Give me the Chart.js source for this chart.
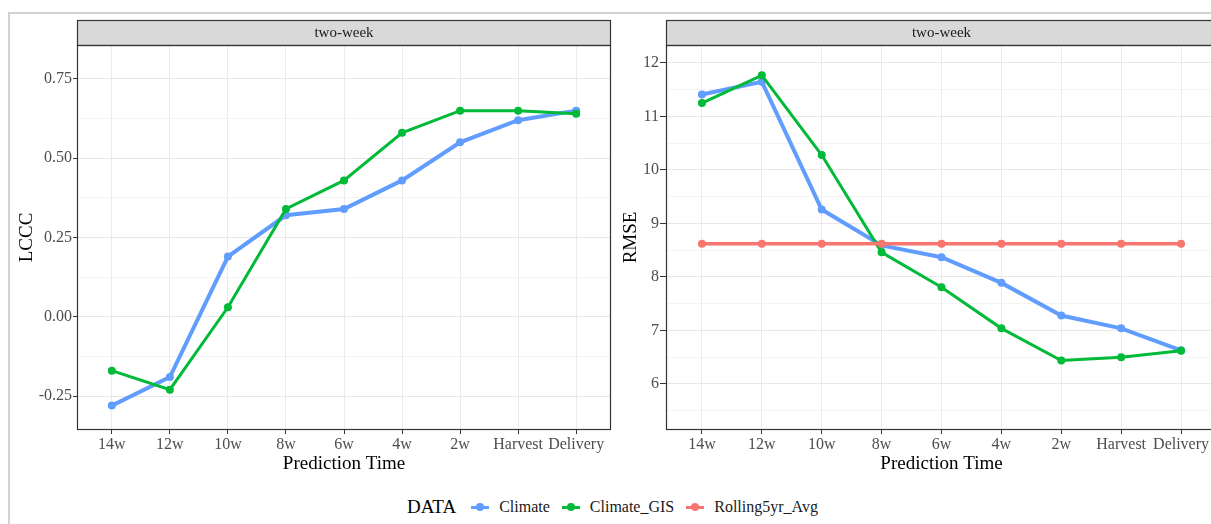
<!DOCTYPE html>
<html lang="en">
<head>
<meta charset="UTF-8">
<title>Prediction Time - LCCC and RMSE</title>
<script src="https://cdn.jsdelivr.net/npm/chart.js"></script>
<style>
    body {
        margin: 0;
        width: 1211px;
        height: 524px;
        overflow: hidden;
        position: relative;
        background: #fff;
        font-family: "Liberation Serif", "Times New Roman", serif;
    }
    .frame {
        position: absolute;
        left: 8px;
        top: 12px;
        width: 1300px;
        height: 600px;
        border-left: 2px solid #d2d2d2;
        border-top: 2px solid #d2d2d2;
    }
    .panel {
        position: absolute;
        top: 0;
        height: 480px;
    }
    #leftBox { left: 0; width: 625px; }
    #rightBox { left: 612px; width: 620px; }
    .legend {
        position: absolute;
        left: 407px;
        top: 494px;
        height: 26px;
        display: flex;
        align-items: center;
        color: #000;
    }
    .legend .ltitle { font-size: 19px; margin-right: 15px; }
    .legend .key {
        position: relative;
        width: 18px;
        height: 10px;
        margin-right: 10px;
    }
    .legend .key .bar {
        position: absolute; left: 0; top: 4px; width: 18px; height: 3px;
    }
    .legend .key .dot {
        position: absolute; left: 5px; top: 1px; width: 8px; height: 8px; border-radius: 50%;
    }
    .legend .txt { font-size: 16px; margin-right: 12px; color: #1a1a1a; }
</style>
</head>
<body>

<div class="frame"></div>
<div class="panel" id="leftBox"><canvas id="lcccChart"></canvas></div>
<div class="panel" id="rightBox"><canvas id="rmseChart"></canvas></div>
<div class="legend" id="legend"></div>

<script>
    // categories on the x axis
    const predTimes = ['14w', '12w', '10w', '8w', '6w', '4w', '2w', 'Harvest', 'Delivery'];

    // LCCC panel
    const lcccClimate    = [-0.28, -0.19, 0.19, 0.32, 0.34, 0.43, 0.55, 0.62, 0.65];
    const lcccClimateGIS = [-0.17, -0.23, 0.03, 0.34, 0.43, 0.58, 0.65, 0.65, 0.64];
    const lcccMajorTicks = [-0.25, 0, 0.25, 0.5, 0.75];
    const lcccMinorTicks = [-0.125, 0.125, 0.375, 0.625];

    // RMSE panel
    const rmseClimate    = [11.41, 11.65, 9.26, 8.59, 8.37, 7.89, 7.28, 7.04, 6.63];
    const rmseClimateGIS = [11.25, 11.77, 10.28, 8.46, 7.81, 7.04, 6.44, 6.50, 6.62];
    const rmseRolling    = [8.62, 8.62, 8.62, 8.62, 8.62, 8.62, 8.62, 8.62, 8.62];
    const rmseMajorTicks = [6, 7, 8, 9, 10, 11, 12];
    const rmseMinorTicks = [5.5, 6.5, 7.5, 8.5, 9.5, 10.5, 11.5];

    const seriesNames  = ['Climate', 'Climate_GIS', 'Rolling5yr_Avg'];
    const seriesColors = ['#619CFF', '#00BA38', '#F8766D'];
    const stripLabel = 'two-week';

    const serif = '"Liberation Serif", "Times New Roman", serif';

    function toPoints(values) {
        return values.map((v, i) => ({ x: i, y: v }));
    }

    function makeDataset(idx, values, width) {
        return {
            label: seriesNames[idx],
            data: toPoints(values),
            borderColor: seriesColors[idx],
            backgroundColor: seriesColors[idx],
            borderWidth: width,
            pointRadius: 4,
            pointBorderWidth: 0,
            pointHoverRadius: 4,
            tension: 0,
            order: 3 - idx
        };
    }

    // grey facet strip on top + dark panel border
    const stripPlugin = {
        id: 'strip',
        afterDraw(chart) {
            const ctx = chart.ctx;
            const a = chart.chartArea;
            const h = 25;
            ctx.save();
            ctx.fillStyle = '#d9d9d9';
            ctx.fillRect(a.left, a.top - h, a.right - a.left, h);
            ctx.strokeStyle = '#333333';
            ctx.lineWidth = 1.2;
            ctx.strokeRect(a.left + 0.5, a.top - h + 0.5, a.right - a.left - 1, h);
            ctx.strokeRect(a.left + 0.5, a.top + 0.5, a.right - a.left - 1, a.bottom - a.top - 1);
            ctx.fillStyle = '#1a1a1a';
            ctx.font = '15px ' + serif;
            ctx.textAlign = 'center';
            ctx.textBaseline = 'middle';
            ctx.fillText(stripLabel, (a.left + a.right) / 2, a.top - h / 2 + 1);
            ctx.restore();
        }
    };

    function makeChart(canvasId, datasets, cfg) {
        const majors = cfg.majors;
        const allTicks = majors.concat(cfg.minors).sort((a, b) => a - b);
        return new Chart(document.getElementById(canvasId), {
            type: 'line',
            data: { datasets: datasets },
            plugins: [stripPlugin],
            options: {
                responsive: true,
                maintainAspectRatio: false,
                animation: false,
                layout: { padding: { left: cfg.padLeft, right: cfg.padRight, top: 45, bottom: 0 } },
                plugins: {
                    legend: { display: false },
                    tooltip: { enabled: false }
                },
                scales: {
                    x: {
                        type: 'linear',
                        min: -0.6,
                        max: predTimes.length - 0.4,
                        afterBuildTicks: s => { s.ticks = predTimes.map((c, i) => ({ value: i })); },
                        afterFit: s => { s.height = 50; },
                        border: { display: false },
                        grid: { color: '#ebebeb', lineWidth: 1, tickColor: '#333333', tickLength: 4 },
                        ticks: {
                            autoSkip: false,
                            maxRotation: 0,
                            padding: 1,
                            color: '#4d4d4d',
                            font: { family: serif, size: 16 },
                            callback: v => predTimes[v]
                        },
                        title: {
                            display: true,
                            text: 'Prediction Time',
                            color: '#000',
                            font: { family: serif, size: 19 },
                            padding: { top: 0, bottom: 5 }
                        }
                    },
                    y: {
                        min: cfg.min,
                        max: cfg.max,
                        afterBuildTicks: s => { s.ticks = allTicks.map(v => ({ value: v })); },
                        afterFit: s => { s.width = cfg.axisWidth; },
                        border: { display: false },
                        grid: {
                            color: c => majors.includes(c.tick.value) ? '#e8e8e8' : '#f4f4f4',
                            lineWidth: 1,
                            tickColor: c => majors.includes(c.tick.value) ? '#333333' : 'rgba(0,0,0,0)',
                            tickLength: cfg.tickLen
                        },
                        ticks: {
                            padding: 1,
                            color: '#4d4d4d',
                            font: { family: serif, size: 16 },
                            callback: v => majors.includes(v) ? cfg.fmt(v) : ''
                        },
                        title: {
                            display: true,
                            text: cfg.title,
                            color: '#000',
                            font: { family: serif, size: 19 },
                            padding: { top: 0, bottom: 0 }
                        }
                    }
                }
            }
        });
    }

    makeChart('lcccChart', [
        makeDataset(0, lcccClimate, 4),
        makeDataset(1, lcccClimateGIS, 3)
    ], {
        min: -0.357, max: 0.857,
        majors: lcccMajorTicks, minors: lcccMinorTicks,
        fmt: v => v.toFixed(2),
        title: 'LCCC',
        padLeft: 16, padRight: 14, axisWidth: 61, tickLen: 4
    });

    makeChart('rmseChart', [
        makeDataset(0, rmseClimate, 4),
        makeDataset(1, rmseClimateGIS, 3),
        makeDataset(2, rmseRolling, 3.5)
    ], {
        min: 5.14, max: 12.336,
        majors: rmseMajorTicks, minors: rmseMinorTicks,
        fmt: v => String(v),
        title: 'RMSE',
        padLeft: 8, padRight: 15, axisWidth: 46, tickLen: 6
    });

    // shared legend below both panels
    const legend = document.getElementById('legend');
    legend.innerHTML = '<span class="ltitle">DATA</span>' + seriesNames.map((name, i) =>
        `<span class="key"><span class="bar" style="background:${seriesColors[i]}"></span>` +
        `<span class="dot" style="background:${seriesColors[i]}"></span></span>` +
        `<span class="txt">${name}</span>`
    ).join('');
</script>

</body>
</html>
